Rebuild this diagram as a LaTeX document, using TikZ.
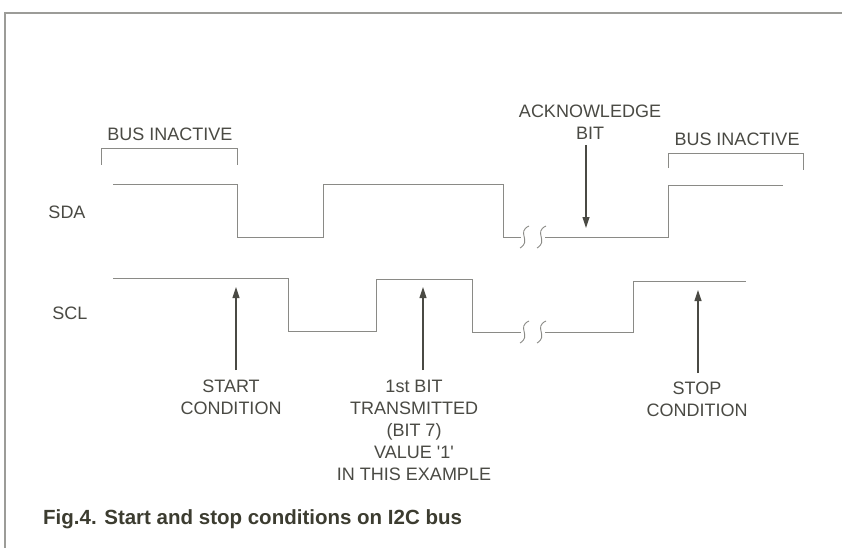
\documentclass[tikz,border=0pt]{standalone}
\usepackage{fontspec}
\setmainfont{Liberation Sans}
\usepackage{xcolor}
\usepackage{tikz}
\usetikzlibrary{backgrounds}
\usetikzlibrary{arrows.meta}
\usetikzlibrary{calc}
\pgfdeclarelayer{edgelayer}
\pgfdeclarelayer{nodelayer}
\pgfsetlayers{background,edgelayer,nodelayer,main}
\definecolor{ink}{RGB}{74,74,68}
\definecolor{wire}{RGB}{138,138,134}
\definecolor{capink}{RGB}{60,60,48}
\tikzstyle{none}=[inner sep=0mm]
\tikzstyle{tag}=[inner sep=0mm,text=ink,align=center,font=\fontsize{18}{22}\selectfont]
\tikzstyle{tag top}=[tag,anchor=north]
\tikzstyle{tag bot}=[tag,anchor=south]
\tikzstyle{figtitle}=[inner sep=0mm,text=capink,anchor=base west,font=\bfseries\fontsize{20.5}{24}\selectfont]
\tikzstyle{sig}=[draw=wire,line width=0.9pt,line join=miter]
\tikzstyle{frame}=[draw=wire!85,line width=1.3pt]
\tikzstyle{arr}=[draw=ink,line width=1.1pt,-{Triangle[length=11pt,width=7pt]}]
% break mark on a line: \wavebreak{x}{y}
\newcommand{\wavebreak}[2]{\draw [style=sig] (#1+5,#2-11) .. controls (#1-8,#2-5) and (#1+8,#2+4) .. (#1-4,#2+11);}

\begin{document}
\begin{tikzpicture}[x=1pt,y=-1pt]
	\useasboundingbox (0,0) rectangle (842,548);
	\begin{pgfonlayer}{background}
		\fill [white] (0,0) rectangle (842,548);
	\end{pgfonlayer}
	\begin{pgfonlayer}{nodelayer}
		\node [style=tag] (sda) at (67,212) {SDA};
		\node [style=tag] (scl) at (70,313) {SCL};
		\node [style=tag] (idle1) at (170,134) {BUS INACTIVE};
		\node [style=tag] (idle2) at (737,139) {BUS INACTIVE};
		\node [style=tag bot] (ack) at (590,140) {ACKNOWLEDGE\\BIT};
		\node [style=tag top] (start) at (231,379.5) {START\\CONDITION};
		\node [style=tag top] (bit) at (414,379.5) {1st BIT\\TRANSMITTED\\(BIT 7)\\VALUE \textquotesingle 1\textquotesingle\\IN THIS EXAMPLE};
		\node [style=tag top] (stop) at (697,381.5) {STOP\\CONDITION};
		\node [style=figtitle] (title) at (43,524) {Fig.4. Start and stop conditions on I2C bus};
		\node [style=none] (ackdn) at (586,228) {};
		\node [style=none] (startup) at (236,287) {};
		\node [style=none] (bitup) at (423,287) {};
		\node [style=none] (stopup) at (698,290) {};
	\end{pgfonlayer}
	\begin{pgfonlayer}{edgelayer}
		\draw [style=frame] (842,13) -- (5,13) -- (5,548);
		% bus inactive brackets
		\draw [style=sig] (101,165) -- (101,148) -- (237,148) -- (237,165);
		\draw [style=sig] (668,168) -- (668,153) -- (803,153) -- (803,170);
		% SDA
		\draw [style=sig] (113,184) -- (237,184) -- (237,237) -- (323,237) -- (323,184) -- (503,184) -- (503,237) -- (521,237);
		\draw [style=sig] (545,237) -- (668,237) -- (668,185) -- (783,185);
		\wavebreak{524}{237}
		\wavebreak{541}{237}
		% SCL
		\draw [style=sig] (113,278) -- (288,278) -- (288,331) -- (376,331) -- (376,279) -- (472,279) -- (472,332) -- (521,332);
		\draw [style=sig] (545,332) -- (633,332) -- (633,281) -- (746,281);
		\wavebreak{524}{332}
		\wavebreak{541}{332}
		% pointers
		\draw [style=arr, shorten <=5pt] (ack.south -| ackdn) to (ackdn.center);
		\draw [style=arr, shorten <=9.5pt] (start.north -| startup) to (startup.center);
		\draw [style=arr, shorten <=9.5pt] (bit.north -| bitup) to (bitup.center);
		\draw [style=arr, shorten <=8.5pt] (stop.north -| stopup) to (stopup.center);
	\end{pgfonlayer}
\end{tikzpicture}
\end{document}
